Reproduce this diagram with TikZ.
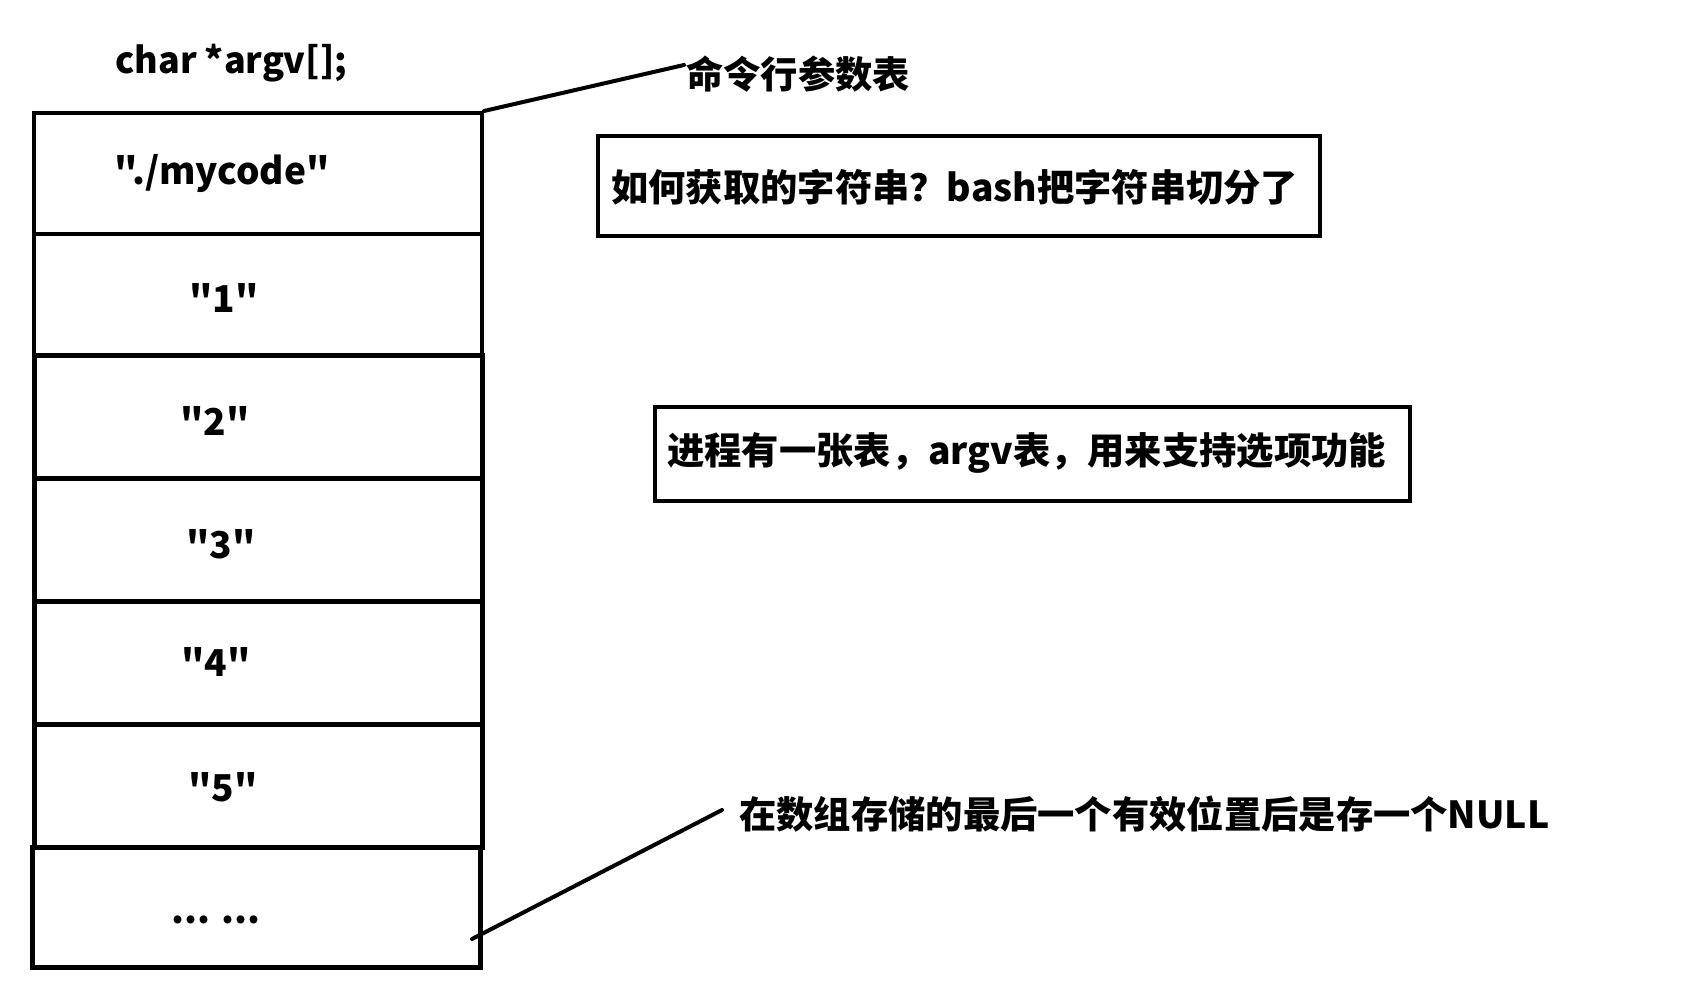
\documentclass[tikz,border=0pt]{standalone}
\usepackage{fontspec}
\newfontfamily\cjkf{Noto Sans CJK SC}
\begin{document}
\begin{tikzpicture}[x=1pt,y=-1pt,
  cell/.style={draw,line width=4pt,minimum width=448pt,inner sep=0pt,anchor=north west},
  txt/.style={inner sep=0pt,font=\cjkf\fontsize{37}{40}\selectfont\bfseries},
  note/.style={inner sep=0pt,anchor=west,font=\cjkf\fontsize{37.3}{40}\selectfont\bfseries},
  notebox/.style={draw,line width=4pt,inner sep=0pt,anchor=north west},
  conn/.style={line width=4pt,line cap=round}]
\useasboundingbox (0,0) rectangle (1696,1008);
% cells
\node[cell,minimum height=121pt] (c0) at (32,111) {};
\node[cell,minimum height=121pt] (c1) at (32,232) {};
\node[cell,minimum height=123pt,line width=5pt] (c2) at (32,353) {};
\node[cell,minimum height=123pt,line width=5pt] (c3) at (32,476) {};
\node[cell,minimum height=123pt,line width=5pt] (c4) at (32,599) {};
\node[cell,minimum height=123pt,line width=5pt] (c5) at (32,722) {};
\node[cell,minimum height=120pt,line width=5pt] (c6) at (30,845) {};
% cell texts
\node[txt] (t0) at (222,174) {"./mycode"};
\node[txt] (t1) at (224,298) {"1"};
\node[txt] (t2) at (215,421) {"2"};
\node[txt] (t3) at (221,544) {"3"};
\node[txt] (t4) at (216,662) {"4"};
\node[txt] (t5) at (223,787) {"5"};
\node[txt] (t6) at (216,920) {... ...};
% title
\node[note,font=\cjkf\fontsize{36}{40}\selectfont\bfseries] (title) at (115,63) {char *argv[];};
% labels
\node[note] (lbl) at (686,74) {命令行参数表};
\coordinate (p1) at (684,65);
\draw[conn] (c0.north east) -- (p1);
\node[notebox,minimum width=722pt,minimum height=100pt] (b1) at (596,134) {};
\node[note] (b1t) at (611,187) {如何获取的字符串？bash把字符串切分了};
\node[notebox,minimum width=755pt,minimum height=94pt] (b2) at (653,405) {};
\node[note] (b2t) at (667,453) {进程有一张表，argv表，用来支持选项功能};
\node[note] (nul) at (739,814) {在数组存储的最后一个有效位置后是存一个NULL};
\coordinate (p2) at (472,939);
\coordinate (p3) at (722,810);
\draw[conn] (p2) -- (p3);
\end{tikzpicture}
\end{document}
